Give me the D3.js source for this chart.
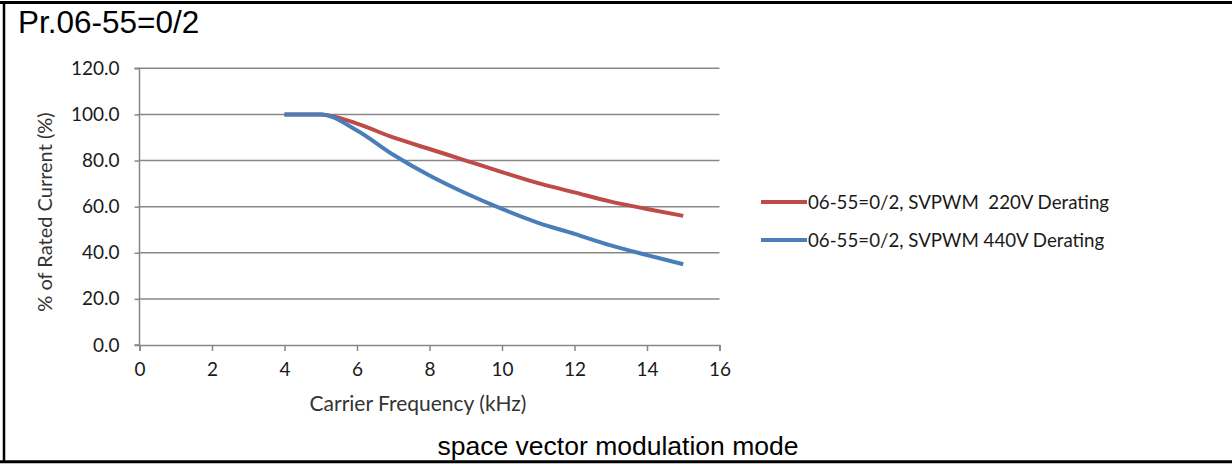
<!DOCTYPE html>
<html><head><meta charset="utf-8">
<script src="https://cdn.jsdelivr.net/npm/d3@7"></script>
<style>body{margin:0;background:#fff}svg{display:block}</style>
</head><body><svg id="c" width="1232" height="464"></svg>
<script>
const freq = [4,5,6,7,8,9,10,11,12,13,14,15];
const v220 = [100,100,96,90,85,80,75,70.2,66.2,62.2,59,56];
const v440 = [100,100,93,82.5,73.5,65.8,59,53,48.2,43.2,39,35];
const seriesNames = ["06-55=0/2, SVPWM  220V Derating","06-55=0/2, SVPWM 440V Derating"];
const seriesColors = ["#BE4B48","#4A7EBB"];
const xTicks = [0,2,4,6,8,10,12,14,16];
const yTicks = [0,20,40,60,80,100,120];
const titleText = "Pr.06-55=0/2";
const captionText = "space vector modulation mode";
const xTitle = "Carrier Frequency (kHz)";
const yTitle = "% of Rated Current (%)";

const svg = d3.select("#c");
const chartFont = "Lato, 'Open Sans', sans-serif";
const x = d3.scaleLinear().domain([0,16]).range([139.5,719.5]);
const y = d3.scaleLinear().domain([0,120]).range([345,68.3]);

// frame
svg.append("line").attr("x1",0).attr("x2",1232).attr("y1",2.5).attr("y2",2.5).attr("stroke","#000").attr("stroke-width",3);
svg.append("line").attr("x1",4).attr("x2",4).attr("y1",1).attr("y2",463).attr("stroke","#000").attr("stroke-width",2.5);
svg.append("line").attr("x1",0).attr("x2",1232).attr("y1",461.8).attr("y2",461.8).attr("stroke","#000").attr("stroke-width",3);

// title and caption
svg.append("text").attr("x",18).attr("y",33).attr("font-family","'Liberation Sans', Arial, sans-serif")
  .attr("font-size",31.5).attr("fill","#000").text(titleText);
svg.append("text").attr("x",618).attr("y",455).attr("text-anchor","middle").attr("font-family","'Liberation Sans', Arial, sans-serif")
  .attr("font-size",26.5).attr("fill","#000").text(captionText);

const gridColor = "#878787";
// gridlines
svg.append("g").selectAll("line").data(yTicks.filter(d=>d>0)).join("line")
  .attr("x1",x(0)).attr("x2",x(16)).attr("y1",d=>y(d)).attr("y2",d=>y(d))
  .attr("stroke",gridColor).attr("stroke-width",1.5);

// y axis
const yAxis = d3.axisLeft(y).tickValues(yTicks).tickFormat(d3.format(".1f")).tickSize(5).tickPadding(15);
const gy = svg.append("g").attr("transform",`translate(${x(0)},0)`).call(yAxis);
// x axis
const xAxis = d3.axisBottom(x).tickValues(xTicks).tickFormat(d3.format("d")).tickSize(6).tickPadding(12);
const gx = svg.append("g").attr("transform",`translate(0,${y(0)})`).call(xAxis);
[gx,gy].forEach(g=>{
  g.select(".domain").attr("stroke",gridColor).attr("stroke-width",1.5);
  g.selectAll(".tick line").attr("stroke",gridColor).attr("stroke-width",1.5);
  g.selectAll(".tick text").attr("font-family",chartFont).attr("font-size",19).attr("fill","#1a1a1a");
});
gy.select(".domain").attr("d",`M-5,${y(120)}H0V${y(0)}H-5`);

// axis titles
svg.append("text").attr("x",418).attr("y",411).attr("text-anchor","middle").attr("font-family",chartFont)
  .attr("font-size",21).attr("fill","#333").text(xTitle);
svg.append("text").attr("transform","translate(52,212) rotate(-90)").attr("text-anchor","middle").attr("font-family",chartFont)
  .attr("font-size",20).attr("fill","#333").text(yTitle);

// lines
const series = [v220, v440];
const line = d3.line().x((d,i)=>x(freq[i])).y(d=>y(d)).curve(d3.curveMonotoneX);
svg.append("g").selectAll("path").data(series).join("path")
  .attr("d",d=>line(d)).attr("fill","none").attr("stroke",(d,i)=>seriesColors[i])
  .attr("stroke-width",4).attr("stroke-linejoin","round").attr("stroke-linecap","butt");

// legend
const legY = [202,240];
const leg = svg.append("g").selectAll("g").data(seriesNames).join("g")
  .attr("transform",(d,i)=>`translate(761,${legY[i]})`);
leg.append("line").attr("x1",0).attr("x2",46).attr("y1",0).attr("y2",0)
  .attr("stroke",(d,i)=>seriesColors[i]).attr("stroke-width",4);
leg.append("text").attr("x",47).attr("y",6.5).attr("font-family",chartFont).attr("font-size",18.7)
  .attr("fill","#1a1a1a").style("white-space","pre").text(d=>d);
</script></body></html>
